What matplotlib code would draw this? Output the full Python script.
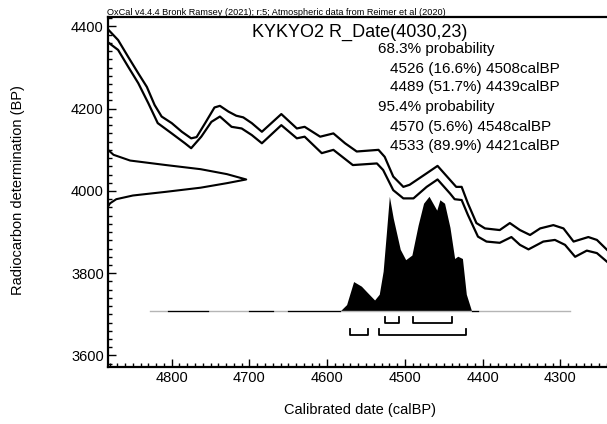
import matplotlib
matplotlib.use('Agg')
import matplotlib.pyplot as plt
import matplotlib.transforms as mtransforms
import numpy as np
from matplotlib.ticker import MultipleLocator

plt.rcParams['font.family'] = ['Liberation Sans', 'DejaVu Sans']

# calibration curve, upper and lower 1-sigma envelope (calBP, 14C BP)
upper_cal = [4883, 4869, 4856, 4843, 4832, 4822, 4813, 4800, 4787, 4775, 4768, 4757,
             4745, 4738, 4727, 4717, 4708, 4697, 4684, 4659, 4639, 4629, 4609, 4592,
             4577, 4562, 4534, 4526, 4515, 4502, 4494, 4472, 4458, 4442, 4434, 4427,
             4419, 4408, 4397, 4378, 4365, 4352, 4339, 4326, 4309, 4296, 4283, 4264,
             4253, 4240]
upper_bp = [4395, 4367, 4326, 4286, 4253, 4209, 4181, 4165, 4144, 4128, 4131, 4165,
            4203, 4207, 4193, 4183, 4179, 4165, 4144, 4187, 4152, 4156, 4132, 4140,
            4116, 4096, 4100, 4083, 4035, 4010, 4015, 4043, 4061, 4027, 4010, 4010,
            3970, 3922, 3909, 3905, 3922, 3905, 3893, 3909, 3917, 3909, 3877, 3888,
            3881, 3857]

lower_cal = [4883, 4869, 4856, 4843, 4830, 4818, 4800, 4783, 4775, 4762, 4749, 4738,
             4723, 4710, 4697, 4684, 4659, 4639, 4629, 4607, 4592, 4567, 4536, 4528,
             4515, 4502, 4489, 4472, 4458, 4442, 4436, 4427, 4419, 4406, 4395, 4378,
             4363, 4352, 4341, 4322, 4307, 4294, 4281, 4266, 4253, 4240]
lower_bp = [4363, 4343, 4302, 4262, 4213, 4165, 4140, 4116, 4104, 4132, 4168, 4181,
            4156, 4152, 4136, 4116, 4160, 4128, 4132, 4092, 4100, 4063, 4067, 4051,
            4002, 3982, 3982, 4010, 4028, 3994, 3980, 3978, 3942, 3889, 3877, 3874,
            3888, 3869, 3858, 3877, 3881, 3869, 3840, 3855, 3849, 3828]

# R_Date(4030,23) as drawn on the y axis (14C BP, relative density)
rdate_bp = [4100, 4088, 4074, 4063, 4053, 4041, 4028, 4019, 4008, 3998, 3989, 3980, 3970, 3962]
rdate_p = [0.0, 0.04, 0.16, 0.42, 0.67, 0.86, 1.0, 0.86, 0.67, 0.42, 0.18, 0.06, 0.015, 0.0]

# calibrated posterior (calBP, relative probability)
post_cal = [4584, 4575, 4566, 4556, 4549, 4539, 4533, 4528, 4524, 4520, 4515, 4506,
            4499, 4491, 4483, 4476, 4469, 4464, 4459, 4455, 4449, 4442, 4436, 4432,
            4426, 4421, 4414]
post_p = [0.0, 0.06, 0.26, 0.22, 0.17, 0.10, 0.15, 0.35, 0.67, 1.0, 0.81, 0.54,
          0.45, 0.49, 0.75, 0.94, 1.0, 0.94, 0.88, 0.97, 0.94, 0.73, 0.46, 0.48,
          0.46, 0.15, 0.0]
# very small probability stretches along the baseline
tail_segments = [(4805, 4753), (4700, 4670), (4650, 4584), (4414, 4406)]
baseline_span = (4828, 4288)

# highest posterior density ranges
hpd68 = [(4526, 4508), (4489, 4439)]
hpd95 = [(4570, 4548), (4533, 4421)]

title = "KYKYO2 R_Date(4030,23)"
range_lines = ["68.3% probability",
               "4526 (16.6%) 4508calBP",
               "4489 (51.7%) 4439calBP",
               "95.4% probability",
               "4570 (5.6%) 4548calBP",
               "4533 (89.9%) 4421calBP"]
header = "OxCal v4.4.4 Bronk Ramsey (2021); r:5; Atmospheric data from Reimer et al (2020)"

fig = plt.figure(figsize=(6.07, 4.24), dpi=100)
ax = fig.add_axes([0.1779, 0.1344, 0.8221, 0.8255])

ax.plot(upper_cal, upper_bp, color='black', lw=1.6, solid_joinstyle='round')
ax.plot(lower_cal, lower_bp, color='black', lw=1.6, solid_joinstyle='round')

# radiocarbon date profile against the left axis
trans = mtransforms.blended_transform_factory(ax.transAxes, ax.transData)
ax.plot(np.array(rdate_p) * 0.277, rdate_bp, color='black', lw=1.5,
        solid_joinstyle='round', transform=trans)

# posterior
base = 3707
height = 280
ax.plot(baseline_span, [base, base], color='#b5b5b5', lw=1.0)
for a, b in tail_segments:
    ax.plot([a, b], [base, base], color='black', lw=0.9)
ax.fill_between(post_cal, base, base + np.array(post_p) * height, color='black', lw=0)

# range brackets
for rows, top, bot in [(hpd68, 3693, 3679), (hpd95, 3664, 3650)]:
    for a, b in rows:
        ax.plot([a, a, b, b], [top, bot, bot, top], color='black', lw=1.3)

ax.set_xlim(4882, 4240)
ax.set_ylim(3572, 4423)
ax.xaxis.set_major_locator(MultipleLocator(100))
ax.xaxis.set_minor_locator(MultipleLocator(10))
ax.yaxis.set_major_locator(MultipleLocator(200))
ax.yaxis.set_minor_locator(MultipleLocator(20))
ax.tick_params(which='both', direction='in', width=1.0, labelsize=10.5)
ax.tick_params(which='major', length=6)
ax.tick_params(which='minor', length=3)
ax.tick_params(axis='x', pad=3)
ax.tick_params(axis='y', pad=3)
for side in ['left', 'bottom', 'top']:
    ax.spines[side].set_linewidth(1.6)
ax.spines['right'].set_visible(False)

fig.text(0.5931, 0.9245, title, fontsize=13, ha='center', va='center')
ys = [0.8837, 0.8373, 0.7941, 0.7469, 0.7012, 0.6564]
for i, line in enumerate(range_lines):
    x = 0.6227 if 'probability' in line else 0.6425
    fig.text(x, ys[i], line, fontsize=11, ha='left', va='center')

fig.text(0.176, 0.970, header, fontsize=6.6, ha='left', va='center')
fig.text(0.593, 0.033, "Calibrated date (calBP)", fontsize=10.5, ha='center', va='center')
fig.text(0.030, 0.552, "Radiocarbon determination (BP)", fontsize=10.5,
         ha='center', va='center', rotation=90)

fig.savefig('out.png', dpi=100)
